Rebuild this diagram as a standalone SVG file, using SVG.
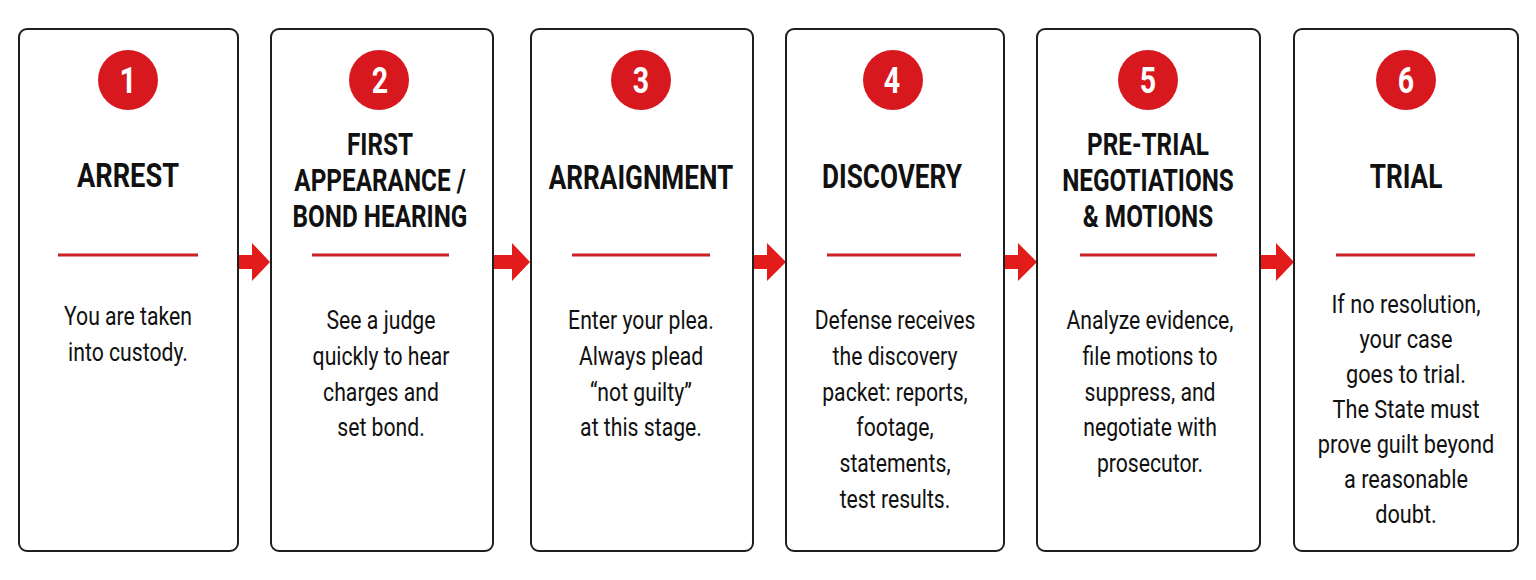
<svg xmlns="http://www.w3.org/2000/svg" width="1536" height="580" viewBox="0 0 1536 580">
<style>
.box{fill:#fff;stroke:#1e1e1e;stroke-width:2}
.badge{fill:#d7191f}
.num{font-family:Roboto,"Liberation Sans",sans-serif;font-weight:700;font-size:37px;fill:#fff;text-anchor:middle}
.title{font-family:Roboto,"Liberation Sans",sans-serif;font-weight:700;font-size:34px;fill:#111;text-anchor:middle}
.title2{font-family:Roboto,"Liberation Sans",sans-serif;font-weight:700;font-size:32px;fill:#111;text-anchor:middle}
.body{font-family:Roboto,"Liberation Sans",sans-serif;font-weight:400;font-size:26.5px;fill:#111;text-anchor:middle}
.rule{stroke:#cc1f26;stroke-width:3}
.arrow{fill:#e21b1b}
</style>
<rect width="1536" height="580" fill="#fff"/>
<g id="connectors">
<polygon class="arrow" points="238,255 252,255 252,243 270,262 252,281 252,269 238,269"/>
<polygon class="arrow" points="493,255 512,255 512,243 530,262 512,281 512,269 493,269"/>
<polygon class="arrow" points="753,255 767,255 767,243 786,262 767,281 767,269 753,269"/>
<polygon class="arrow" points="1004,255 1018,255 1018,243 1037,262 1018,281 1018,269 1004,269"/>
<polygon class="arrow" points="1260,255 1276,255 1276,243 1294,262 1276,281 1276,269 1260,269"/>
</g>
<g id="step1">
<rect class="box" x="19" y="29" width="219" height="522" rx="8"/>
<circle class="badge" cx="128" cy="80" r="30"/>
<g transform="translate(128,0) scale(0.8,1)"><text class="num" x="0" y="93">1</text>
<text class="title" x="0" y="187">ARREST</text></g>
<line class="rule" x1="58" y1="255" x2="198" y2="255"/>
<g transform="translate(128,0) scale(0.8,1)"><text class="body" x="0" y="325">You are taken</text><text class="body" x="0" y="361">into custody.</text></g>
</g>
<g id="step2">
<rect class="box" x="271" y="29" width="222" height="522" rx="8"/>
<circle class="badge" cx="379" cy="80" r="30"/>
<g transform="translate(380,0) scale(0.77,1)"><text class="num" x="0" y="93">2</text></g>
<g transform="translate(380,0) scale(0.76,1)"><text class="title2" x="0" y="155">FIRST</text><text class="title2" x="0" y="191">APPEARANCE /</text><text class="title2" x="0" y="227">BOND HEARING</text></g>
<line class="rule" x1="312" y1="255" x2="449" y2="255"/>
<g transform="translate(381,0) scale(0.8,1)"><text class="body" x="0" y="329">See a judge</text><text class="body" x="0" y="365">quickly to hear</text><text class="body" x="0" y="401">charges and</text><text class="body" x="0" y="436">set bond.</text></g>
</g>
<g id="step3">
<rect class="box" x="531" y="29" width="222" height="522" rx="8"/>
<circle class="badge" cx="641" cy="80" r="30"/>
<g transform="translate(641,0) scale(0.77,1)"><text class="num" x="0" y="93">3</text>
<text class="title" x="0" y="189">ARRAIGNMENT</text></g>
<line class="rule" x1="572" y1="255" x2="710" y2="255"/>
<g transform="translate(641,0) scale(0.8,1)"><text class="body" x="0" y="329">Enter your plea.</text><text class="body" x="0" y="365">Always plead</text><text class="body" x="0" y="401">“not guilty”</text><text class="body" x="0" y="436">at this stage.</text></g>
</g>
<g id="step4">
<rect class="box" x="786" y="29" width="218" height="522" rx="8"/>
<circle class="badge" cx="893" cy="80" r="30"/>
<g transform="translate(892,0) scale(0.77,1)"><text class="num" x="0" y="93">4</text>
<text class="title" x="0" y="188">DISCOVERY</text></g>
<line class="rule" x1="827" y1="255" x2="961" y2="255"/>
<g transform="translate(895,0) scale(0.8,1)"><text class="body" x="0" y="329">Defense receives</text><text class="body" x="0" y="365">the discovery</text><text class="body" x="0" y="401">packet: reports,</text><text class="body" x="0" y="436">footage,</text><text class="body" x="0" y="472">statements,</text><text class="body" x="0" y="508">test results.</text></g>
</g>
<g id="step5">
<rect class="box" x="1037" y="29" width="223" height="522" rx="8"/>
<circle class="badge" cx="1148" cy="80" r="30"/>
<g transform="translate(1148,0) scale(0.77,1)"><text class="num" x="0" y="93">5</text></g>
<g transform="translate(1148,0) scale(0.76,1)"><text class="title2" x="0" y="155">PRE-TRIAL</text><text class="title2" x="0" y="191">NEGOTIATIONS</text><text class="title2" x="0" y="227">&amp; MOTIONS</text></g>
<line class="rule" x1="1080" y1="255" x2="1217" y2="255"/>
<g transform="translate(1150,0) scale(0.8,1)"><text class="body" x="0" y="329">Analyze evidence,</text><text class="body" x="0" y="365">file motions to</text><text class="body" x="0" y="401">suppress, and</text><text class="body" x="0" y="436">negotiate with</text><text class="body" x="0" y="472">prosecutor.</text></g>
</g>
<g id="step6">
<rect class="box" x="1294" y="29" width="224" height="522" rx="8"/>
<circle class="badge" cx="1406" cy="80" r="30"/>
<g transform="translate(1406,0) scale(0.77,1)"><text class="num" x="0" y="93">6</text>
<text class="title" x="0" y="188">TRIAL</text></g>
<line class="rule" x1="1336" y1="255" x2="1475" y2="255"/>
<g transform="translate(1406,0) scale(0.82,1)"><text class="body" x="0" y="313">If no resolution,</text><text class="body" x="0" y="348">your case</text><text class="body" x="0" y="383">goes to trial.</text><text class="body" x="0" y="418">The State must</text><text class="body" x="0" y="453">prove guilt beyond</text><text class="body" x="0" y="488">a reasonable</text><text class="body" x="0" y="523">doubt.</text></g>
</g>
</svg>
